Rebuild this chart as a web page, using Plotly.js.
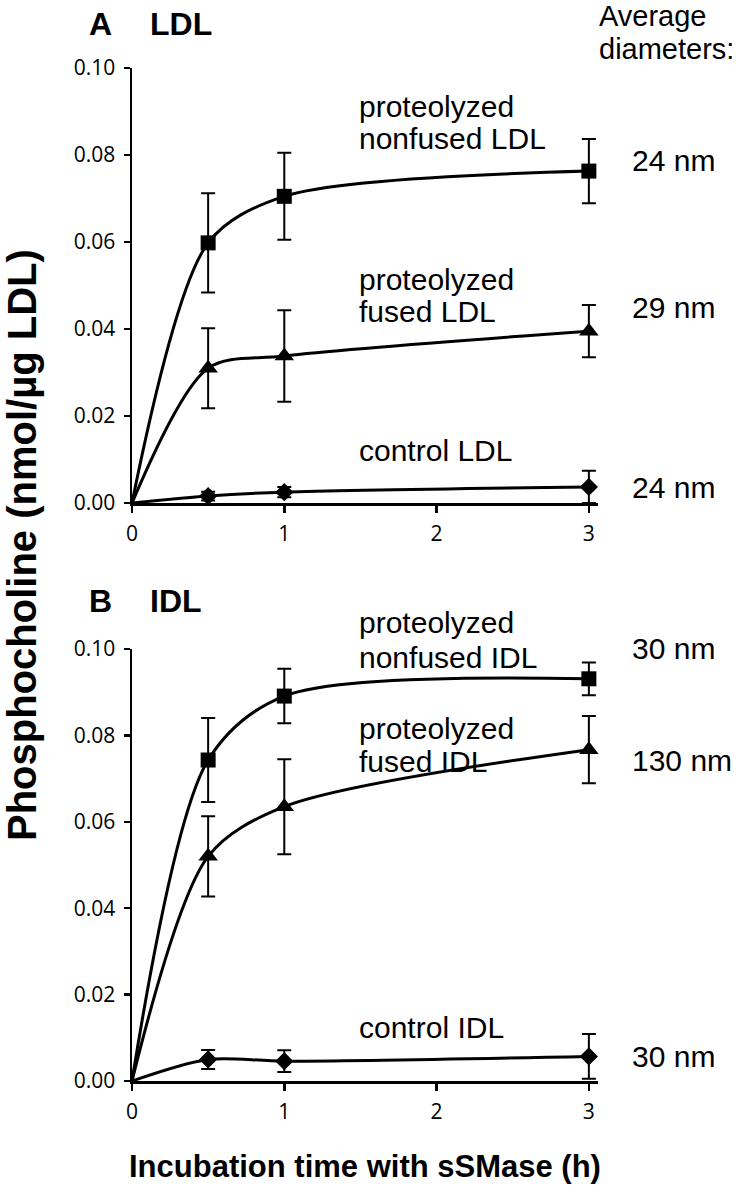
<!DOCTYPE html>
<html>
<head>
<meta charset="utf-8">
<script src="https://cdn.plot.ly/plotly-3.0.1.min.js"></script>
<style>html,body{margin:0;padding:0;background:#fff;}#chart{width:749px;height:1196px;}</style>
</head>
<body>
<div id="chart"></div>
<script>
// ---- data ----
const times = [0, 0.5, 1, 3];
const xTicks = [0, 1, 2, 3];
const yTicks = [0, 0.02, 0.04, 0.06, 0.08, 0.10];

// Panel A: LDL
const ldlNonfused = [0, 0.0598, 0.0705, 0.0763];
const ldlNonfusedErr = [0, 0.0114, 0.0100, 0.0074];
const ldlFused = [0, 0.0310, 0.0338, 0.0395];
const ldlFusedErr = [0, 0.0092, 0.0105, 0.0060];
const ldlControl = [0, 0.0016, 0.0025, 0.0037];
const ldlControlErr = [0, 0.0010, 0.0012, 0.0037];

// Panel B: IDL
const idlNonfused = [0, 0.0743, 0.0891, 0.0931];
const idlNonfusedErr = [0, 0.0097, 0.0063, 0.0038];
const idlFused = [0, 0.0520, 0.0635, 0.0767];
const idlFusedErr = [0, 0.0093, 0.0110, 0.0078];
const idlControl = [0, 0.0050, 0.0046, 0.0057];
const idlControlErr = [0, 0.0022, 0.0025, 0.0052];

const W = 749, H = 1196;
const px = v => v / W;
const py = v => 1 - v / H;

function series(y, err, sym, size, xa, ya) {
  const line = {
    x: times, y: y, xaxis: xa, yaxis: ya, type: 'scatter', mode: 'lines',
    line: {color: '#000', width: 3, shape: 'spline', smoothing: 0.85},
    hoverinfo: 'skip', showlegend: false
  };
  const pts = {
    x: times.slice(1), y: y.slice(1), xaxis: xa, yaxis: ya, type: 'scatter', mode: 'markers',
    marker: {symbol: sym, size: size, color: '#000'},
    error_y: {type: 'data', array: err.slice(1), visible: true, color: '#000', thickness: 2, width: 7},
    cliponaxis: false, showlegend: false
  };
  return [line, pts];
}

const data = [].concat(
  series(ldlNonfused, ldlNonfusedErr, 'square', 15, 'x', 'y'),
  series(ldlFused, ldlFusedErr, 'triangle-up', 17, 'x', 'y'),
  series(ldlControl, ldlControlErr, 'diamond', 14, 'x', 'y'),
  series(idlNonfused, idlNonfusedErr, 'square', 15, 'x2', 'y2'),
  series(idlFused, idlFusedErr, 'triangle-up', 17, 'x2', 'y2'),
  series(idlControl, idlControlErr, 'diamond', 14, 'x2', 'y2')
);

const tickFont = {family: 'Open Sans, sans-serif', size: 21, color: '#000'};
function xAxis(anchor) {
  return {
    domain: [px(132), px(598)], range: [0, 3.06], anchor: anchor,
    showline: true, linecolor: '#000', linewidth: 2.5,
    ticks: 'outside', ticklen: 7, tickwidth: 2.5, tickcolor: '#000',
    tickvals: xTicks, ticktext: xTicks.map(String), tickfont: tickFont,
    ticklabelstandoff: 3,
    showgrid: false, zeroline: false, fixedrange: true
  };
}
function yAxis(anchor, top, bottom) {
  return {
    domain: [py(bottom), py(top)], range: [0, 0.1], anchor: anchor,
    showline: true, linecolor: '#000', linewidth: 2.5,
    ticks: 'outside', ticklen: 6, tickwidth: 2.5, tickcolor: '#000',
    tickvals: yTicks, ticktext: yTicks.map(v => v.toFixed(2)), tickfont: tickFont,
    ticklabelstandoff: 4,
    showgrid: false, zeroline: false, fixedrange: true
  };
}

const txt = {family: 'Liberation Sans, Arial, sans-serif', size: 30, color: '#000'};
const txtSmall = {family: 'Liberation Sans, Arial, sans-serif', size: 29, color: '#000'};
const bold = {family: 'Liberation Sans, Arial, sans-serif', size: 32, color: '#000', weight: 'bold'};
function ann(text, x, y, font, xanchor, extra) {
  return Object.assign({text: text, x: px(x), y: py(y), xref: 'paper', yref: 'paper',
    xanchor: xanchor || 'left', yanchor: 'middle', showarrow: false, font: font || txt}, extra || {});
}

const annotations = [
  ann('A', 100, 24, bold, 'center'),
  ann('LDL', 148, 24, bold, 'left'),
  ann('Average', 597, 16, txtSmall),
  ann('diameters:', 597, 49, txtSmall),
  ann('proteolyzed', 357, 106),
  ann('nonfused LDL', 357, 139),
  ann('24 nm', 630, 161),
  ann('proteolyzed', 357, 279),
  ann('fused LDL', 357, 311),
  ann('29 nm', 630, 307),
  ann('control LDL', 357, 450),
  ann('24 nm', 630, 487),
  ann('B', 100, 601, bold, 'center'),
  ann('IDL', 148, 601, bold, 'left'),
  ann('proteolyzed', 357, 622),
  ann('nonfused IDL', 357, 657),
  ann('30 nm', 630, 648),
  ann('130 nm', 630, 760),
  ann('proteolyzed', 357, 728),
  ann('fused IDL', 357, 761),
  ann('control IDL', 357, 1027),
  ann('30 nm', 630, 1056),
  ann('Phosphocholine (nmol/µg LDL)', 22, 545, {family: 'Liberation Sans, Arial, sans-serif', size: 40, color: '#000', weight: 'bold'}, 'center', {textangle: -90}),
  ann('Incubation time with sSMase (h)', 365, 1166, {family: 'Liberation Sans, Arial, sans-serif', size: 31, color: '#000', weight: 'bold'}, 'center')
];

const layout = {
  width: W, height: H,
  margin: {l: 0, r: 0, t: 0, b: 0},
  paper_bgcolor: '#fff', plot_bgcolor: '#fff',
  showlegend: false,
  xaxis: xAxis('y'),
  yaxis: yAxis('x', 68, 503),
  xaxis2: xAxis('y2'),
  yaxis2: yAxis('x2', 649, 1081),
  annotations: annotations
};

Plotly.newPlot('chart', data, layout, {staticPlot: true});
</script>
</body>
</html>
